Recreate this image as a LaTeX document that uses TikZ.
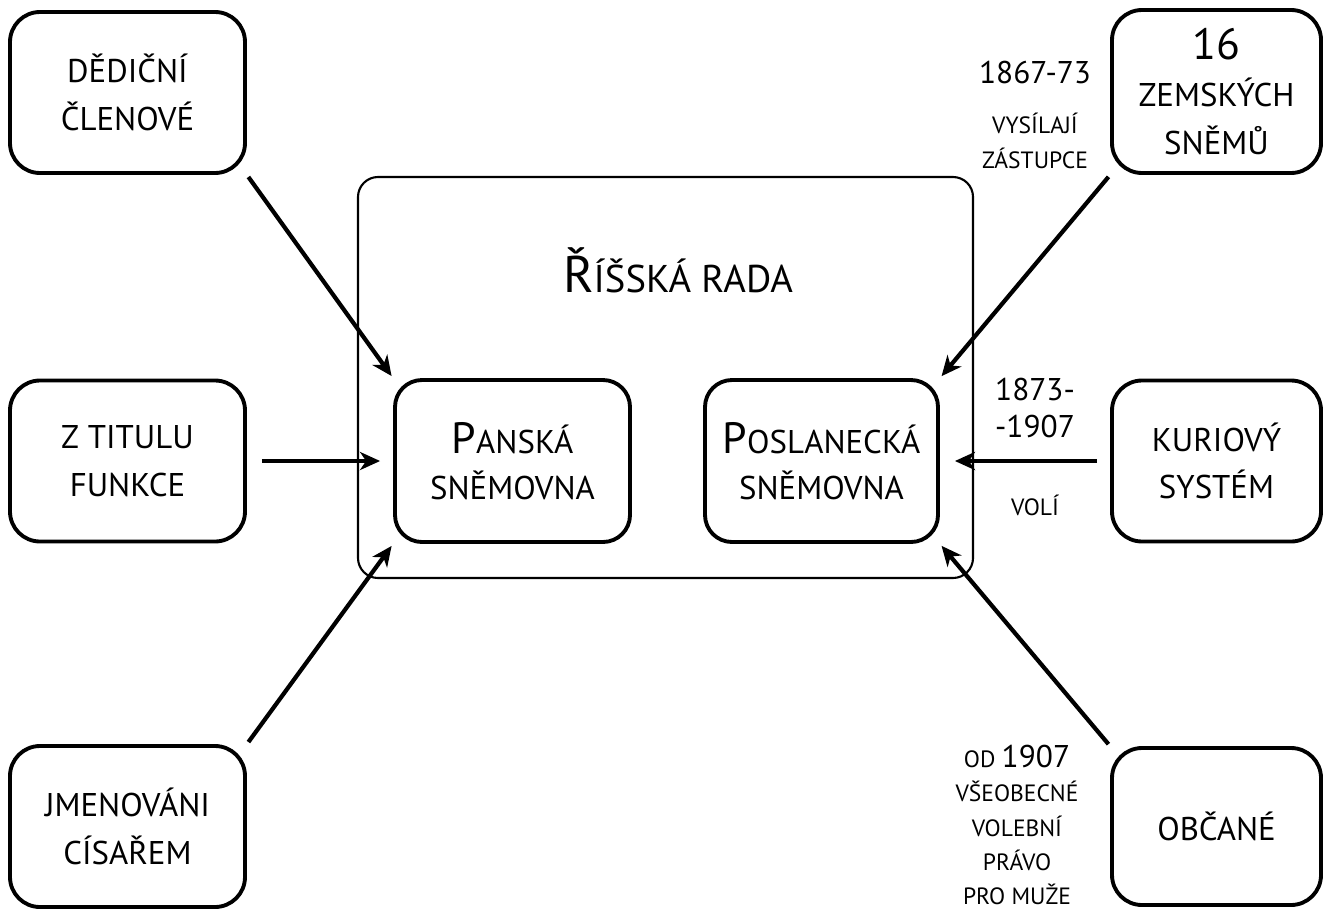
\documentclass[tikz,border=0pt]{standalone}
\usepackage{fontspec}
\setmainfont{PT Sans}
\usetikzlibrary{arrows.meta,positioning}
\makeatletter
\newcommand{\vel}[1]{{\fontsize{\dimexpr\f@size pt*4/3\relax}{\f@baselineskip}\selectfont #1}}
\makeatother

\begin{document}
\begin{tikzpicture}[
      box/.style={draw,line width=2.2pt,rounded corners=0.6cm,minimum width=4.7cm,minimum height=3.22cm,align=center,font=\fontsize{18.7}{27}\selectfont},
      komora/.style={box,rounded corners=0.54cm,minimum height=3.24cm,font=\fontsize{18.7}{26}\selectfont},
      rada/.style={draw,line width=1.2pt,rounded corners=0.4cm,minimum width=12.3cm,minimum height=8.02cm},
      pozn/.style={align=center,font=\fontsize{13.4}{20}\selectfont},
      arr/.style={-{Stealth[length=4mm,width=3.6mm,inset=1.2mm]},line width=2.4pt}
    ]
    \useasboundingbox (0,0) rectangle (26.54,-18.24);
    \node[rada] (riss) at (13.31,-7.55) {};
    \node[anchor=base,font=\fontsize{22}{28}\selectfont] (nazev) at (13.56,-5.84) {\vel{Ř}ÍŠSKÁ RADA};
    \node[komora] (panska) at (10.25,-9.22) {\vel{P}ANSKÁ\\SNĚMOVNA};
    \node[komora,minimum width=4.66cm] (poslanecka) at (16.43,-9.22) {\vel{P}OSLANECKÁ\\SNĚMOVNA};
    \node[box] (dedicni) at (2.55,-1.85) {DĚDIČNÍ\\ČLENOVÉ};
    \node[box] (titul) at (2.55,-9.22) {Z TITULU\\FUNKCE};
    \node[box] (cisar) at (2.55,-16.53) {JMENOVÁNI\\CÍSAŘEM};
    \node[box,minimum width=4.18cm,minimum height=3.26cm] (snemy) at (24.33,-1.83) {\vel{16}\\ZEMSKÝCH\\SNĚMŮ};
    \node[box,minimum width=4.18cm] (kurie) at (24.33,-9.22) {KURIOVÝ\\SYSTÉM};
    \node[box,minimum width=4.18cm,minimum height=3.14cm] (obcane) at (24.33,-16.53) {OBČANÉ};
    \node[pozn] (zastupci) at (20.7,-2.3) {\vel{1867-73}\\[8pt]VYSÍLAJÍ\\ZÁSTUPCE};
    \node[pozn,font=\fontsize{13.4}{21}\selectfont] (obdobi) at (20.7,-8.16) {\vel{1873-}\\\vel{-1907}};
    \node[pozn] (voli) at (20.7,-10.1) {VOLÍ};
    \node[pozn,font=\fontsize{13.4}{19.4}\selectfont] (pravo) at (20.34,-16.5) {OD \vel{1907}\\VŠEOBECNÉ\\VOLEBNÍ\\PRÁVO\\PRO MUŽE};
    \draw[arr,shorten <=0.05cm,shorten >=0.05cm] (dedicni.south east)--(panska.north west);
    \draw[arr,shorten <=0.3cm,shorten >=0.26cm] (titul)--(panska);
    \draw[arr,shorten <=0.05cm,shorten >=0.05cm] (cisar.north east)--(panska.south west);
    \draw[arr,shorten <=0.05cm,shorten >=0.05cm] (snemy.south west)--(poslanecka.north east);
    \draw[arr,shorten <=0.26cm,shorten >=0.3cm] (kurie)--(poslanecka);
    \draw[arr,shorten <=0.05cm,shorten >=0.05cm] (obcane.north west)--(poslanecka.south east);
  \end{tikzpicture}
\end{document}
